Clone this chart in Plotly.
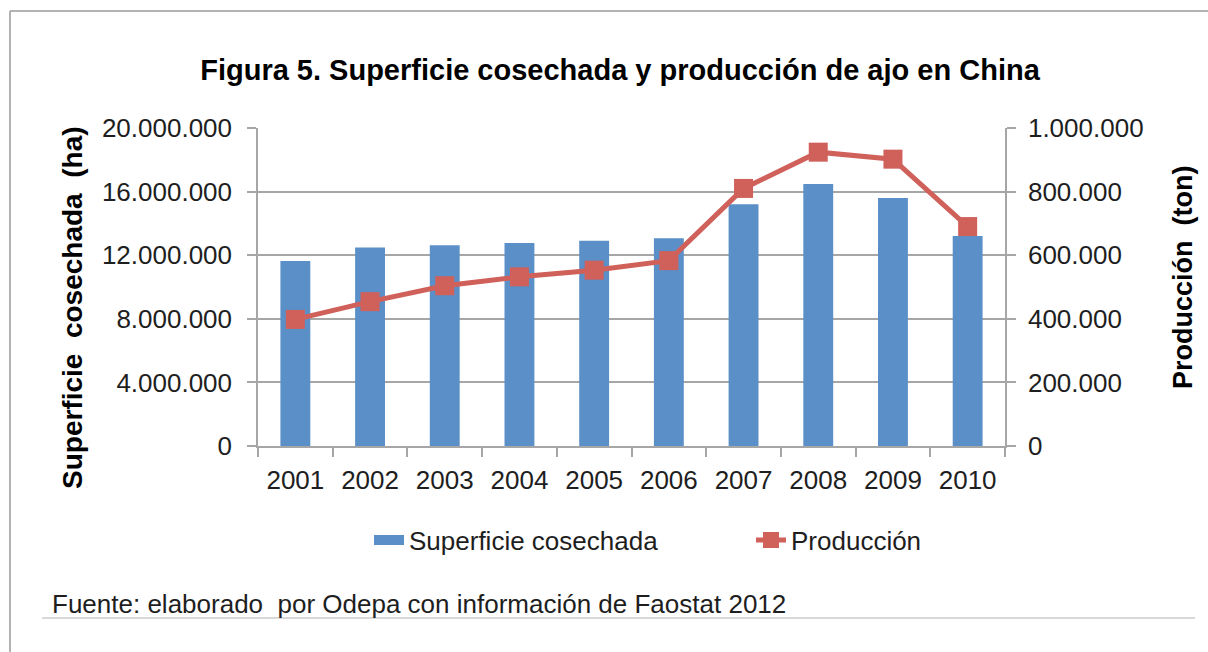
import plotly.graph_objects as go

years = ["2001", "2002", "2003", "2004", "2005", "2006", "2007", "2008", "2009", "2010"]
superficie_ha = [11640000, 12490000, 12620000, 12770000, 12910000, 13060000, 15200000, 16480000, 15600000, 13200000]
produccion_ton = [398000, 454000, 504000, 532000, 553000, 583000, 810000, 924000, 902000, 690000]

left_ticks = [0, 4000000, 8000000, 12000000, 16000000, 20000000]
right_ticks = [0, 200000, 400000, 600000, 800000, 1000000]

FONT = "Liberation Sans, Arial, sans-serif"
BLUE = "#5B8FC7"
RED = "#D0605A"
GRID = "#A6A6A6"
TXT = "#1e1e1e"

fig = go.Figure()
fig.add_trace(go.Bar(x=years, y=superficie_ha, name="Superficie cosechada",
                     marker=dict(color=BLUE, line=dict(width=0)), showlegend=False,
                     yaxis="y"))
# legend proxy for bar series (wide rectangle look)
fig.add_trace(go.Scatter(x=[None], y=[None], mode="lines", name="Superficie cosechada",
                         line=dict(color=BLUE, width=14), yaxis="y", legend="legend"))
fig.add_trace(go.Scatter(x=years, y=produccion_ton, name="Producción", mode="lines+markers",
                         line=dict(color=RED, width=5),
                         marker=dict(symbol="square", size=19, color=RED),
                         yaxis="y2", legend="legend2"))

L, R, T, B = 258, 203, 128, 206
W, H = 1208, 652
pw, ph = W - L - R, H - T - B

def px(x):
    return (x - L) / pw

def py(y):
    return (H - B - y) / ph

legend_common = dict(orientation="h", xref="container", xanchor="left",
                     yref="container", y=1 - 540 / H, yanchor="middle",
                     font=dict(family=FONT, size=26, color=TXT), bgcolor="rgba(0,0,0,0)")

fig.update_layout(
    width=W, height=H,
    margin=dict(l=L, r=R, t=T, b=B, autoexpand=False),
    paper_bgcolor="white", plot_bgcolor="white",
    separators=",.",
    bargap=0.6,
    font=dict(family=FONT, size=26, color=TXT),
    title=dict(text="<b>Figura 5. Superficie cosechada y producción de ajo en China</b>",
               x=620 / W, xref="container", xanchor="center",
               y=1 - 70 / H, yref="container", yanchor="middle",
               font=dict(family=FONT, size=29, color="#000")),
    xaxis=dict(type="category", range=[-0.5, len(years) - 0.5], showline=True,
               linecolor=GRID, linewidth=1.5,
               ticks="outside", tickson="boundaries", ticklen=9, tickcolor=GRID,
               tickwidth=1.5, ticklabelstandoff=10, showgrid=False, tickangle=0,
               tickfont=dict(family=FONT, size=26, color=TXT)),
    yaxis=dict(range=[0, 20000000], tickvals=left_ticks, tickformat=",d",
               showline=True, linecolor=GRID, linewidth=1.5, showgrid=True,
               gridcolor=GRID, gridwidth=1.5, ticks="outside", ticklen=9,
               tickcolor=GRID, tickwidth=1.5, ticklabelstandoff=10, zeroline=False,
               tickfont=dict(family=FONT, size=26, color=TXT)),
    yaxis2=dict(range=[0, 1000000], tickvals=right_ticks, tickformat=",d",
                overlaying="y", side="right", showline=True, linecolor=GRID,
                linewidth=1.5, showgrid=False, ticks="outside", ticklen=9,
                tickcolor=GRID, tickwidth=1.5, ticklabelstandoff=7, zeroline=False,
                tickfont=dict(family=FONT, size=26, color=TXT)),
    legend=dict(x=369 / W, **legend_common),
    legend2=dict(x=751 / W, **legend_common),
    annotations=[
        dict(text="<b>Superficie  cosechada  (ha)</b>", textangle=-90, xref="paper", yref="paper",
             x=px(72), y=py(308), xanchor="center", yanchor="middle", showarrow=False,
             font=dict(family=FONT, size=28, color="#000")),
        dict(text="<b>Producción  (ton)</b>", textangle=-90, xref="paper", yref="paper",
             x=px(1183), y=py(278), xanchor="center", yanchor="middle", showarrow=False,
             font=dict(family=FONT, size=27, color="#000")),
        dict(text="Fuente: elaborado  por Odepa con información de Faostat 2012", xref="paper",
             yref="paper", x=px(50), y=py(604), xanchor="left", yanchor="middle",
             showarrow=False, font=dict(family=FONT, size=26, color=TXT)),
    ],
    shapes=[
        dict(type="line", xref="paper", yref="paper", x0=px(10), x1=px(10), y0=py(660), y1=py(11),
             line=dict(color="#9a9a9a", width=1.5)),
        dict(type="line", xref="paper", yref="paper", x0=px(10), x1=px(1215), y0=py(11), y1=py(11),
             line=dict(color="#9a9a9a", width=1.5)),
        dict(type="line", xref="paper", yref="paper", x0=px(42), x1=px(1195), y0=py(618), y1=py(618),
             line=dict(color="#cccccc", width=1.5)),
    ],
)

fig.write_html("out.html", config={"displayModeBar": False},
               post_script="document.body.style.margin='0';")
